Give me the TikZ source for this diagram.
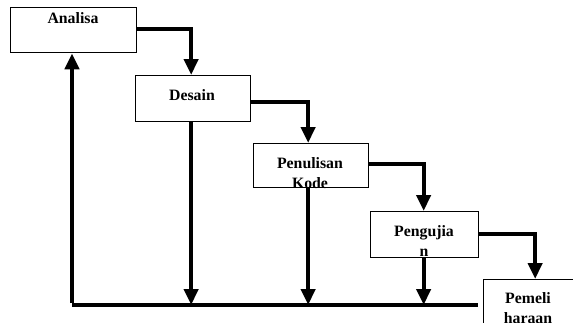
\documentclass[tikz,border=0pt]{standalone}
\usepackage{fontspec}
\setmainfont{Liberation Serif}
\usetikzlibrary{arrows.meta}
\begin{document}
\begin{tikzpicture}[x=1pt,y=-1pt,
  box/.style={draw,line width=1.3pt,rectangle,inner sep=0pt,anchor=north west},
  lbl/.style={font=\fontsize{15.8}{20}\selectfont\bfseries,inner sep=0pt,anchor=base,align=center},
  flow/.style={line width=4pt,-{Triangle[width=14pt,length=16pt]}},
  bus/.style={line width=4pt}]
\useasboundingbox (0,0) rectangle (573,322);
\clip (0,0) rectangle (573,322);
\node[box,minimum width=126pt,minimum height=45pt] (A) at (10,7) {};
\node[box,minimum width=115pt,minimum height=46pt] (D) at (135,75) {};
\node[box,minimum width=115pt,minimum height=44pt] (P) at (253,143) {};
\node[box,minimum width=108pt,minimum height=46pt] (U) at (370,211) {};
\node[box,minimum width=95pt,minimum height=70pt] (M) at (483,279) {};
\node[lbl] (tA) at (73,23) {Analisa};
\node[lbl] (tD) at (192,100) {Desain};
\node[lbl] (tP) at (310,188) {Penulisan\\Kode};
\node[lbl] (tU) at (424,256) {Pengujia\\n};
\node[lbl] (tM) at (528,323) {Pemeli\\haraan};
\coordinate (bl) at (72,305);
\coordinate (br) at (478,305);
\draw[flow] ([yshift=1.5pt]A.east) -| ([xshift=-2pt]D.north);
\draw[flow] ([yshift=-3pt]D.east) -| ([xshift=-3pt]P.north);
\draw[flow] ([yshift=2pt]P.east) -| ([xshift=-1pt]U.north);
\draw[flow] ([yshift=1pt]U.east) -| ([xshift=4pt]M.north);
\draw[bus] (bl) -- (br);
\draw[flow] ([xshift=-2pt]D.south) -- ([xshift=-2pt]D.south |- bl);
\draw[flow] ([xshift=-3pt]P.south) -- ([xshift=-3pt]P.south |- bl);
\draw[flow] ([xshift=-1pt]U.south) -- ([xshift=-1pt]U.south |- bl);
\draw[flow] ([yshift=2pt]bl) -- (bl |- A.south);
\end{tikzpicture}
\end{document}
